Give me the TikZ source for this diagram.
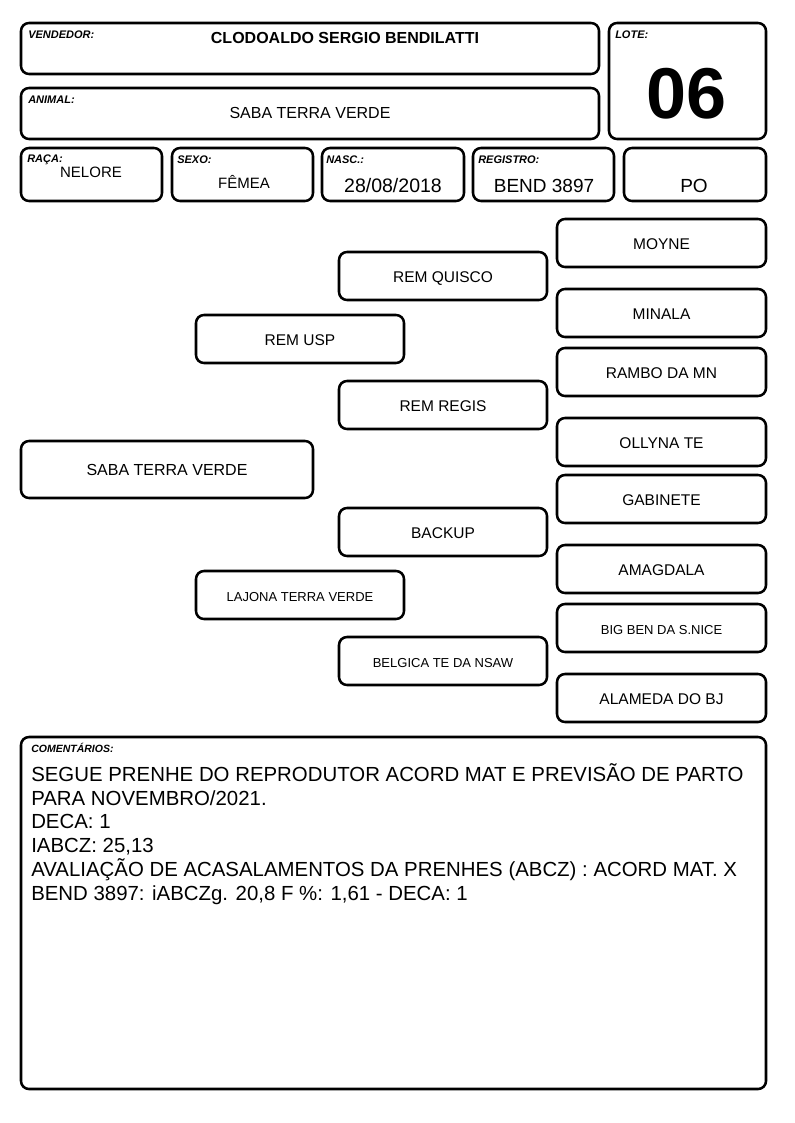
\documentclass[tikz,border=0pt]{standalone}
\usepackage{fontspec}
\setmainfont{Liberation Sans}
\newcommand\fpx[1]{\fontsize{\dimexpr #1pt*3/4\relax}{\dimexpr #1pt*9/10\relax}\selectfont}
\newcommand\bx[7]{\node[box, minimum width={(#4-#2)*0.75pt}, minimum height={(#5-#3)*0.75pt}, font=#6] (#1) at ({(#2+#4)/2},{(#3+#5)/2}) {#7};}
\tikzset{
  box/.style={draw, line width=1.9pt, rounded corners=6pt, inner sep=0pt, outer sep=0pt, align=center, text height=0.93em, text depth=0pt},
  lbl/.style={anchor=base west, inner sep=0pt, font=\fpx{11}\bfseries\itshape},
  val/.style={anchor=base, inner sep=0pt},
  cline/.style={anchor=base west, inner sep=0pt, font=\fpx{20.4}}
}
\begin{document}
\begin{tikzpicture}[x=0.75pt, y=-0.75pt]
\useasboundingbox (0,0) rectangle (794,1123);
% header
\bx{vend}{21}{23}{599}{74}{\fpx{16}}{}
\bx{anim}{21}{88}{599}{139}{\fpx{16}}{}
\bx{lote}{609}{23}{766}{139}{\fpx{16}}{}
\bx{raca}{21}{148}{162}{201}{\fpx{16}}{}
\bx{sexo}{172}{148}{313}{201}{\fpx{16}}{}
\bx{nasc}{322}{148}{464}{201}{\fpx{16}}{}
\bx{reg}{473}{148}{614}{201}{\fpx{16}}{}
\bx{po}{624}{148}{766}{201}{\fpx{16}}{}
\node[lbl] (vendl) at (28,39) {VENDEDOR:};
\node[val, font=\fpx{16}\bfseries] (vendv) at (345,44) {CLODOALDO SERGIO BENDILATTI};
\node[lbl] (animl) at (28,104) {ANIMAL:};
\node[val, font=\fpx{16}] (animv) at (310,119) {SABA TERRA VERDE};
\node[lbl] (lotel) at (615,39) {LOTE:};
\node[val, font=\fpx{72}\bfseries] (lotev) at (687,119) {06};
\node[lbl] (racal) at (27,163) {RAÇA:};
\node[val, font=\fpx{15}] (racav) at (91,177.5) {NELORE};
\node[lbl] (sexol) at (177,164) {SEXO:};
\node[val, font=\fpx{15}] (sexov) at (244,189) {FÊMEA};
\node[lbl] (nascl) at (326,164) {NASC.:};
\node[val, font=\fpx{19.5}] (nascv) at (393,193) {28/08/2018};
\node[lbl] (regl) at (478,164) {REGISTRO:};
\node[val, font=\fpx{19}] (regv) at (544,193) {BEND 3897};
\node[val, font=\fpx{19}] (pov) at (694,193) {PO};
% pedigree
\bx{p1}{557}{219}{766}{267}{\fpx{15.5}}{MOYNE}
\bx{g1}{339}{252}{547}{300}{\fpx{15.5}}{REM QUISCO}
\bx{p2}{557}{289}{766}{337}{\fpx{15.5}}{MINALA}
\bx{s1}{196}{315}{404}{363}{\fpx{15.5}}{REM USP}
\bx{p3}{557}{348}{766}{396}{\fpx{15.5}}{RAMBO DA MN}
\bx{g2}{339}{381}{547}{429}{\fpx{15.5}}{REM REGIS}
\bx{p4}{557}{418}{766}{466}{\fpx{15.5}}{OLLYNA TE}
\bx{an}{21}{441}{313}{498}{\fpx{16}}{SABA TERRA VERDE}
\bx{p5}{557}{475}{766}{523}{\fpx{15.5}}{GABINETE}
\bx{g3}{339}{508}{547}{556}{\fpx{15.5}}{BACKUP}
\bx{p6}{557}{545}{766}{593}{\fpx{15.5}}{AMAGDALA}
\bx{s2}{196}{571}{404}{619}{\fpx{13}}{LAJONA TERRA VERDE}
\bx{p7}{557}{604}{766}{652}{\fpx{13}}{BIG BEN DA S.NICE}
\bx{g4}{339}{637}{547}{685}{\fpx{13}}{BELGICA TE DA NSAW}
\bx{p8}{557}{674}{766}{722}{\fpx{15.5}}{ALAMEDA DO BJ}
% comments
\bx{com}{21}{737}{766}{1089}{\fpx{16}}{}
\node[lbl, font=\fpx{10.5}\bfseries\itshape] (coml) at (31,752) {COMENTÁRIOS:};
\node[cline] (c1) at (31,781.5) {SEGUE PRENHE DO REPRODUTOR ACORD MAT E PREVISÃO DE PARTO};
\node[cline] (c2) at (31,805.5) {PARA NOVEMBRO/2021.};
\node[cline] (c3) at (31,828.5) {DECA: 1};
\node[cline] (c4) at (31,852.5) {IABCZ: 25,13};
\node[cline] (c5) at (31,876.5) {AVALIAÇÃO DE ACASALAMENTOS DA PRENHES (ABCZ) : ACORD MAT. X};
\node[cline] (c6) at (31,900.5) {BEND 3897: iABCZg. 20,8 F \%: 1,61 - DECA: 1};
\end{tikzpicture}
\end{document}
